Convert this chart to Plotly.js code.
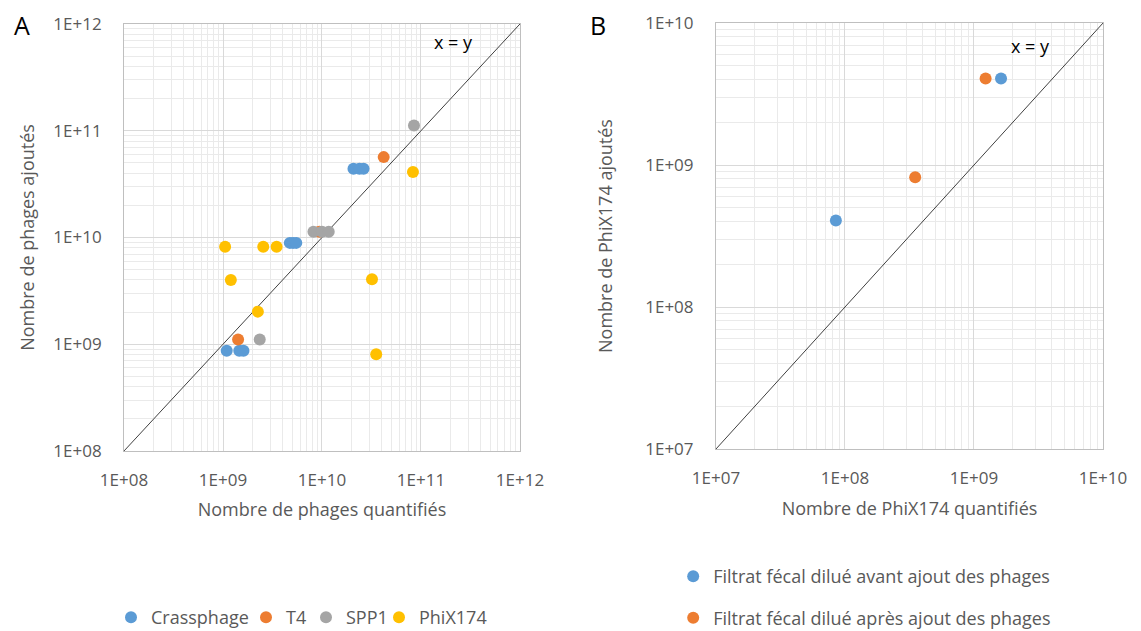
<!DOCTYPE html>
<html>
<head>
<meta charset="utf-8">
<script src="https://cdn.plot.ly/plotly-3.0.1.min.js"></script>
<style>html,body{margin:0;padding:0;background:#fff;}#chart{width:1141px;height:631px;}</style>
</head>
<body>
<div id="chart"></div>
<script>
// ---- Panel A data ----
const crassX = [1.09e9, 1.46e9, 1.61e9, 4.73e9, 5.1e9, 5.5e9, 2.08e10, 2.39e10, 2.63e10];
const crassY = [8.7e8, 8.7e8, 8.7e8, 8.9e9, 8.9e9, 8.9e9, 4.4e10, 4.4e10, 4.4e10];
const t4X = [1.42e9, 9.4e9, 4.2e10];
const t4Y = [1.11e9, 1.13e10, 5.66e10];
const spp1X = [2.35e9, 8.2e9, 1.0e10, 1.17e10, 8.5e10];
const spp1Y = [1.11e9, 1.13e10, 1.13e10, 1.13e10, 1.12e11];
const phixX = [1.05e9, 2.55e9, 3.48e9, 1.2e9, 3.2e10, 2.25e9, 8.3e10, 3.53e10];
const phixY = [8.2e9, 8.2e9, 8.2e9, 4.0e9, 4.06e9, 2.02e9, 4.1e10, 8.05e8];
const diagA = [1e8, 1e12];
const ticksA = [1e8, 1e9, 1e10, 1e11, 1e12];
const tickTextA = ['1E+08', '1E+09', '1E+10', '1E+11', '1E+12'];

// ---- Panel B data ----
const avantX = [8.5e7, 1.62e9];
const avantY = [4.07e8, 4.07e9];
const apresX = [3.5e8, 1.23e9];
const apresY = [8.2e8, 4.07e9];
const diagB = [1e7, 1e10];
const ticksB = [1e7, 1e8, 1e9, 1e10];
const tickTextB = ['1E+07', '1E+08', '1E+09', '1E+10'];

const seriesNamesA = ['Crassphage', 'T4', 'SPP1', 'PhiX174'];
const seriesNamesB = ['Filtrat fécal dilué avant ajout des phages', 'Filtrat fécal dilué après ajout des phages'];

const colors = {blue: '#5B9BD5', orange: '#ED7D31', gray: '#A5A5A5', yellow: '#FFC000'};
const FONT = 'Open Sans, Noto Sans, sans-serif';
const TXT = '#595959';

function minorVals(kFrom, kTo) {
  const v = [];
  for (let k = kFrom; k < kTo; k++) for (let m = 2; m <= 9; m++) v.push(m * Math.pow(10, k));
  return v;
}

const mk = (c) => ({size: 12, color: c});

const traces = [
  {x: diagA, y: diagA, mode: 'lines', line: {color: '#404040', width: 1}, showlegend: false, xaxis: 'x', yaxis: 'y', hoverinfo: 'skip'},
  {x: crassX, y: crassY, name: seriesNamesA[0], mode: 'markers', marker: mk(colors.blue), xaxis: 'x', yaxis: 'y', legend: 'legend'},
  {x: t4X, y: t4Y, name: seriesNamesA[1], mode: 'markers', marker: mk(colors.orange), xaxis: 'x', yaxis: 'y', legend: 'legend3'},
  {x: spp1X, y: spp1Y, name: seriesNamesA[2], mode: 'markers', marker: mk(colors.gray), xaxis: 'x', yaxis: 'y', legend: 'legend4'},
  {x: phixX, y: phixY, name: seriesNamesA[3], mode: 'markers', marker: mk(colors.yellow), xaxis: 'x', yaxis: 'y', legend: 'legend5'},
  {x: diagB, y: diagB, mode: 'lines', line: {color: '#404040', width: 1}, showlegend: false, xaxis: 'x2', yaxis: 'y2', hoverinfo: 'skip'},
  {x: avantX, y: avantY, name: seriesNamesB[0], mode: 'markers', marker: mk(colors.blue), xaxis: 'x2', yaxis: 'y2', legend: 'legend2', legendgroup: 'g1'},
  {x: apresX, y: apresY, name: seriesNamesB[1], mode: 'markers', marker: mk(colors.orange), xaxis: 'x2', yaxis: 'y2', legend: 'legend2', legendgroup: 'g2'}
];

function axis(range, tv, tt, minorK, domain, anchor, title, isX, standoff) {
  return {
    type: 'log', range: range, domain: domain, anchor: anchor,
    tickmode: 'array', tickvals: tv, ticktext: tt,
    tickfont: {family: FONT, size: 17, color: TXT},
    ticks: '', ticklabelstandoff: isX ? 14 : 18,
    showgrid: true, gridcolor: '#d9d9d9', gridwidth: 1,
    minor: {tickmode: 'array', tickvals: minorVals(minorK[0], minorK[1]), showgrid: true, gridcolor: '#eaeaea', gridwidth: 1, ticks: ''},
    showline: true, linecolor: '#bfbfbf', linewidth: 1, mirror: true,
    zeroline: false, automargin: false,
    title: {text: title, font: {family: FONT, size: 18, color: TXT}, standoff: standoff}
  };
}

const legFont = {family: FONT, size: 18, color: TXT};
const hLeg = (xpx) => ({orientation: 'h', x: xpx / 1141, y: -0.008, xanchor: 'left', yanchor: 'bottom', font: legFont, bgcolor: 'rgba(0,0,0,0)'});

const layout = {
  width: 1141, height: 631,
  margin: {l: 0, r: 0, t: 0, b: 0, autoexpand: false},
  paper_bgcolor: '#ffffff', plot_bgcolor: '#ffffff',
  font: {family: FONT, color: TXT},
  xaxis: axis([8, 12], ticksA, tickTextA, [8, 12], [0.1087, 0.4557], 'y', 'Nombre de phages quantifiés', true, 13),
  yaxis: axis([8, 12], ticksA, tickTextA, [8, 12], [0.2853, 0.962], 'x', 'Nombre de phages ajoutés', false, 13),
  xaxis2: axis([7, 10], ticksB, tickTextB, [7, 10], [0.6275, 0.9667], 'y2', 'Nombre de PhiX174 quantifiés', true, 13),
  yaxis2: axis([7, 10], ticksB, tickTextB, [7, 10], [0.2884, 0.9635], 'x2', 'Nombre de PhiX174 ajoutés', false, 27),
  legend: hLeg(111),
  legend3: hLeg(246),
  legend4: hLeg(306),
  legend5: hLeg(379),
  legend2: {
    orientation: 'v', x: 0.59, y: -0.008, xanchor: 'left', yanchor: 'bottom',
    font: legFont, bgcolor: 'rgba(0,0,0,0)',
    traceorder: 'grouped', tracegroupgap: 15
  },
  annotations: [
    {text: 'x = y', x: 11.33, y: 11.83, xref: 'x', yref: 'y', showarrow: false, font: {family: FONT, size: 18, color: '#000'}},
    {text: 'x = y', x: 9.44, y: 9.84, xref: 'x2', yref: 'y2', showarrow: false, font: {family: FONT, size: 18, color: '#000'}},
    {text: 'A', x: 22 / 1141, y: 1 - 25 / 631, xref: 'paper', yref: 'paper', xanchor: 'center', yanchor: 'middle', showarrow: false, font: {family: FONT, size: 25, color: '#000'}},
    {text: 'B', x: 598 / 1141, y: 1 - 25 / 631, xref: 'paper', yref: 'paper', xanchor: 'center', yanchor: 'middle', showarrow: false, font: {family: FONT, size: 25, color: '#000'}}
  ],
  showlegend: true
};

Plotly.newPlot('chart', traces, layout, {displayModeBar: false, staticPlot: true});
</script>
</body>
</html>
